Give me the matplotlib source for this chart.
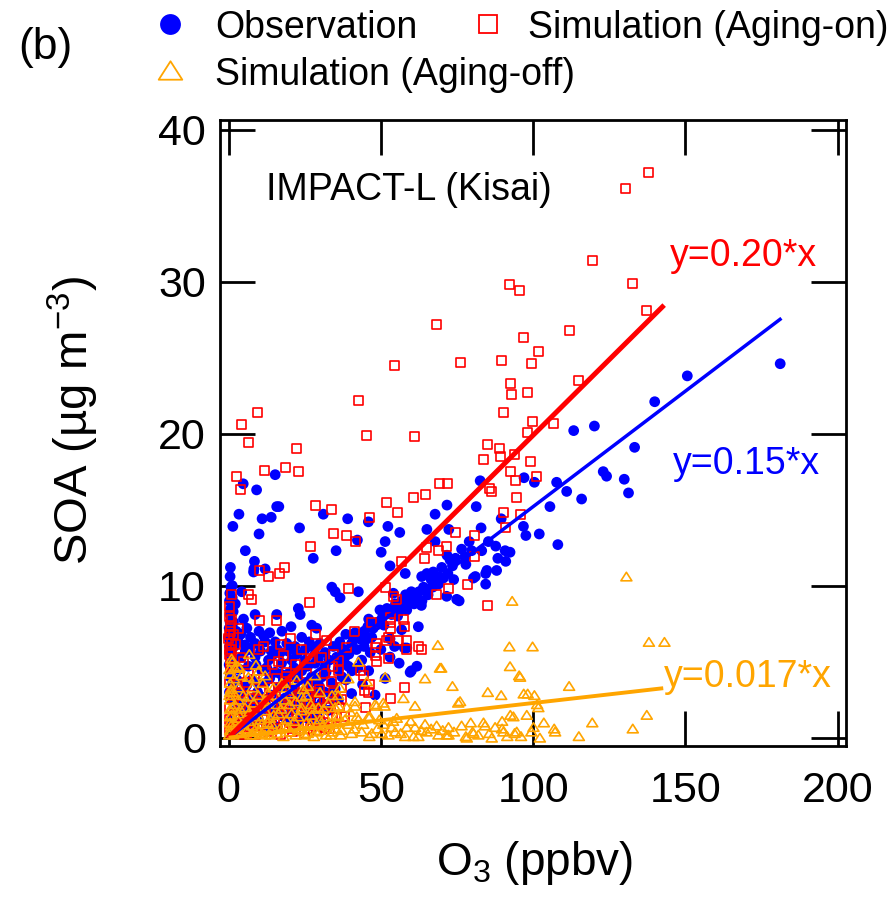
import matplotlib
matplotlib.use('Agg')
import matplotlib.pyplot as plt
from matplotlib.lines import Line2D
from matplotlib.path import Path
import numpy as np

plt.rcParams['font.family'] = ['Liberation Sans', 'DejaVu Sans']
plt.rcParams['mathtext.fontset'] = 'custom'
plt.rcParams['mathtext.rm'] = 'Liberation Sans'

# --- Observation (blue circles): O3 (ppbv), SOA (ug m-3)
obs_x = [15.8, 16.5, 14.0, 11.0, 3.4, 1.4, 10.0, 9.2, 4.8, 15.3, 5.5, 31.1, 23.3, 35.3, 27.8,
         8.5, 8.3, 12.0, 0.5, 8.2, 4.3, 1.0, 0.5, 0.5, 4.9, 8.7, 15.8, 22.9, 23.5, 27.3,
         28.9, 33.9, 35.0,
         0.0, 5.4, 8.7, 12.0, 15.3, 19.1, 21.8, 25.1, 28.4, 31.7, 34.4, 35.5, 28.4, 31.7,
         25.1, 20.7, 17.4, 13.1, 8.7, 4.3, 2.1, 6.5, 10.9, 15.3, 19.6, 24.0, 27.3, 30.6,
         33.9, 7.6, 12.0, 16.4, 20.7, 25.1, 28.4, 4.3, 7.6, 12.0, 16.4, 20.7, 25.1, 30.6,
         32.8, 2.1, 5.4, 9.8, 14.2,
         0.3, 0.5, 0.8, 0.3, 0.6, 1.2, 1.5, 3.0, 6.8, 10.5, 14.0, 17.0, 22.5, 26.5, 30.0,
         18.0, 22.5, 9.5, 14.0, 27.0, 23.0, 18.5, 11.0, 3.5, 6.5, 1.5, 1.0, 19.0, 23.5,
         29.0, 33.5, 36.0,
         53.0, 58.0, 63.4, 67.2, 70.0, 72.7, 64.0, 68.9, 74.9, 36.6, 42.6, 49.7, 54.1,
         58.5, 62.3, 56.8, 53.0, 47.0, 40.4, 37.2, 43.7, 53.0, 59.6, 61.8, 51.4, 48.1,
         39.3, 37.2, 40.4, 36.1,
         71.7, 67.8, 65.1, 72.3, 67.8, 71.7, 52.3, 56.2, 51.4, 50.1, 42.3, 45.9, 39.1,
         65.1, 58.1, 60.9, 63.3, 71.6, 54.8, 45.7, 58.5, 57.7, 73.9,
         38.5, 41.0, 44.5, 46.0, 48.5, 50.5, 52.0, 55.5, 57.0, 60.0, 61.5, 65.5, 66.5,
         70.5, 72.0, 38.0, 42.0, 44.5, 36.5,
         82.6, 97.0, 100.4, 107.7, 111.0, 115.9, 123.0, 124.1, 129.9, 131.3, 81.3, 105.5,
         89.5, 82.9, 96.8, 97.6, 102.0, 108.1, 85.3, 87.7, 90.8, 92.4, 79.8, 83.1, 77.6,
         77.9, 88.4, 91.0, 84.8, 84.4, 88.0, 81.0, 80.4, 84.4, 75.7,
         181.1, 150.6, 139.9, 113.3, 120.1, 133.3]
obs_y = [15.2, 15.2, 14.5, 14.4, 14.7, 13.9, 13.4, 16.3, 16.7, 17.3, 12.3, 14.7, 13.8, 12.3, 11.8,
         11.6, 11.1, 11.1, 10.6, 10.9, 9.6, 8.6, 8.1, 7.6, 7.8, 8.1, 8.1, 8.5, 8.1, 7.4,
         7.2, 9.9, 9.6,
         6.6, 6.1, 6.2, 6.3, 6.3, 6.2, 6.0, 5.8, 5.5, 5.6, 6.0, 5.3, 4.9, 4.7,
         5.1, 5.1, 4.9, 5.1, 5.3, 5.3, 5.1, 4.7, 4.4, 4.3, 4.2, 4.4, 4.0, 4.0,
         3.6, 3.8, 3.6, 3.3, 3.2, 3.1, 2.9, 3.0, 2.5, 2.3, 2.0, 1.8, 1.7, 2.3,
         1.8, 1.8, 1.4, 1.2, 1.0,
         9.0, 8.4, 7.0, 6.0, 5.5, 9.2, 8.3, 6.4, 5.8, 5.7, 5.7, 5.6, 5.5, 6.3, 6.2,
         3.8, 3.9, 3.0, 2.8, 2.5, 2.4, 2.6, 1.8, 2.4, 2.0, 3.5, 4.4, 1.2, 1.2,
         1.5, 2.9, 4.5,
         11.3, 10.8, 10.6, 10.9, 11.2, 11.7, 9.9, 10.1, 9.1, 9.2, 9.6, 8.4, 9.5,
         8.4, 7.3, 7.1, 6.5, 6.6, 6.2, 5.8, 5.1, 5.3, 4.3, 4.7, 3.9, 2.8,
         4.7, 4.0, 2.9, 2.5,
         15.3, 14.7, 13.7, 13.7, 12.9, 12.0, 13.9, 13.5, 12.9, 12.2, 13.0, 14.2, 14.4,
         10.8, 9.4, 8.8, 8.7, 9.3, 8.8, 7.3, 5.9, 5.9, 10.4,
         6.8, 6.5, 7.0, 7.8, 7.4, 7.9, 8.5, 8.0, 9.0, 9.6, 9.2, 9.4, 10.4,
         10.5, 10.8, 5.2, 5.8, 6.0, 6.3,
         16.9, 17.1, 16.8, 16.8, 16.2, 15.7, 17.5, 17.2, 17.0, 16.1, 15.2, 15.2,
         14.4, 13.8, 13.9, 13.3, 13.4, 12.7, 12.9, 12.6, 12.3, 12.2, 12.3, 12.3, 11.9,
         11.4, 11.8, 11.6, 11.0, 10.8, 11.0, 10.6, 10.5, 10.1, 9.0,
         24.6, 23.8, 22.1, 20.2, 20.5, 19.1]
# the crowded low-O3 part of the observations and the band along the fit
obs_crowd = [(2.5, 7.0), (6.0, 7.2), (10.0, 7.0), (13.5, 6.9), (17.5, 7.0), (20.5, 7.3),
             (1.8, 6.0), (4.0, 6.8), (7.2, 6.6), (11.5, 6.7), (16.0, 5.8), (19.5, 5.7),
             (24.0, 6.6), (27.5, 6.0), (33.0, 5.1), (3.5, 4.5), (5.5, 5.7), (9.0, 4.8),
             (12.5, 4.6), (14.8, 5.5), (17.0, 4.2), (21.5, 4.6), (26.0, 4.7), (29.5, 5.2),
             (32.0, 4.3), (36.5, 5.0), (38.0, 5.8), (2.8, 3.8), (5.8, 3.4), (9.5, 3.6),
             (13.5, 3.9), (18.5, 3.4), (22.5, 2.9), (26.5, 3.6), (29.5, 3.5), (31.5, 3.0),
             (35.0, 3.2), (4.5, 2.0), (8.5, 2.2), (10.5, 2.7), (15.0, 1.6), (17.5, 2.4),
             (21.0, 2.4), (24.0, 2.2), (28.5, 2.0), (34.5, 2.4), (0.8, 2.5), (1.2, 1.2),
             (3.0, 0.9), (6.0, 0.8), (8.0, 1.0), (12.5, 0.8), (16.0, 0.7), (18.0, 1.4),
             (22.0, 0.9), (26.5, 1.2), (30.5, 1.0), (0.4, 9.5), (0.8, 9.9), (0.2, 7.2),
             (0.6, 6.3), (0.2, 4.8), (0.5, 4.0), (0.3, 3.0), (0.9, 5.8), (1.6, 7.6),
             (2.2, 8.8), (1.2, 10.0), (0.6, 11.2),
             (39.5, 5.5), (41.5, 6.9), (43.0, 6.5), (45.5, 6.5), (47.5, 7.2), (49.0, 7.6),
             (51.0, 7.4), (53.5, 8.1), (55.0, 8.6), (56.5, 8.4), (59.0, 8.9), (60.5, 9.2),
             (62.5, 9.6), (63.5, 9.0), (67.0, 9.9), (69.0, 10.6), (73.5, 11.3), (74.5, 11.8),
             (76.5, 12.4), (79.0, 12.9), (40.5, 4.4), (42.5, 4.6), (46.5, 5.6), (50.0, 5.8),
             (54.5, 6.0), (38.5, 3.8), (44.0, 3.5), (46.0, 4.4), (56.0, 4.9), (60.0, 4.4)]

# --- Simulation, aging on (red squares)
on_x = [138.0, 130.4, 119.4, 132.7, 137.3, 92.1, 95.6, 68.4, 111.8, 96.8, 101.6, 54.4, 76.0,
        89.6, 99.6, 115.0, 92.5, 92.9, 98.2, 42.5, 90.2, 9.6, 4.1, 6.7, 22.2, 45.3, 60.9,
        99.8, 98.2, 106.7, 85.1, 89.1, 89.4, 83.7, 94.0, 99.0,
        2.6, 3.9, 11.8, 18.7, 22.9, 69.3, 71.9, 64.7, 60.7, 51.9, 28.6, 33.7, 55.4, 46.3,
        34.3, 38.8, 41.6, 27.0, 65.1, 68.8, 71.7, 64.3, 56.9,
        10.3, 13.1, 16.6, 18.5, 6.5, 7.4, 26.7, 10.3, 15.8, 28.4, 0.5, 3.2, 0.5, 0.0, 20.2,
        11.4, 9.8, 17.2, 23.8, 32.0, 1.0, 3.8, 18.0, 0.5, 14.4, 0.5, 19.1, 19.1, 15.8,
        34.2, 36.0, 6.5, 33.9, 24.2, 28.9, 30.0, 32.8, 28.4, 19.6, 15.3,
        0.3, 0.8, 0.3, 0.6, 0.4, 0.8, 1.5,
        5.0, 8.0, 10.0, 12.0, 14.0, 16.0, 18.0, 20.0, 22.0, 24.0, 26.0, 28.0, 30.0, 32.0,
        34.0, 3.0, 6.0, 9.0, 13.0, 17.0, 21.0, 25.0, 29.0, 33.0, 2.0, 4.0, 7.0, 11.0,
        13.5, 17.5, 21.5, 23.0, 26.0, 9.0, 1.0, 1.5, 2.5,
        39.3, 51.4, 54.1, 55.2, 68.3, 72.2, 46.8, 41.5, 53.0, 53.0, 53.0, 57.4, 57.7,
        52.5, 51.9, 55.7, 58.5, 48.6, 48.1, 48.1, 48.6, 52.5, 58.5, 62.3, 63.2, 38.8,
        36.1, 43.2, 44.3, 46.4, 44.6, 45.9, 57.7, 53.3, 44.8, 37.1, 37.2,
        92.7, 101.0, 94.1, 85.6, 86.4, 94.4, 90.2, 95.9, 90.8, 80.6, 74.4, 80.9, 78.4,
        85.0]
on_y = [37.2, 36.1, 31.4, 29.9, 28.1, 29.8, 29.4, 27.2, 26.8, 26.3, 25.4, 24.5, 24.7,
        24.8, 24.6, 23.5, 23.3, 22.6, 22.7, 22.2, 21.4, 21.4, 20.6, 19.4, 19.0, 19.9, 19.8,
        20.8, 20.1, 20.7, 19.3, 19.0, 18.5, 18.3, 18.6, 18.2,
        17.2, 16.3, 17.6, 17.8, 17.5, 16.7, 16.7, 16.0, 15.8, 15.5, 15.3, 15.0, 14.8, 14.5,
        13.4, 13.3, 12.9, 12.6, 12.5, 12.3, 12.6, 11.8, 11.6,
        11.0, 10.6, 10.8, 11.2, 9.4, 9.1, 8.9, 7.7, 7.7, 6.8, 7.3, 7.2, 7.0, 6.5, 6.5,
        6.0, 5.8, 6.1, 5.8, 6.4, 5.8, 5.3, 5.4, 5.1, 4.8, 4.7, 4.3, 4.0, 3.9,
        4.7, 4.4, 4.2, 3.7, 3.5, 3.0, 3.2, 2.7, 2.5, 2.5, 2.7,
        8.0, 6.2, 5.5, 4.2, 3.6, 3.0, 6.8,
        1.0, 1.6, 0.8, 2.0, 1.3, 0.6, 1.8, 1.0, 2.2, 1.4, 0.8, 1.9, 1.1, 2.0,
        1.4, 0.5, 0.3, 0.2, 0.4, 0.2, 0.4, 0.3, 0.5, 0.6, 1.5, 2.2, 2.8, 3.1,
        3.3, 3.0, 3.4, 2.8, 2.2, 2.0, 0.9, 2.5, 3.5,
        9.8, 9.9, 9.3, 9.1, 9.4, 9.8, 7.6, 7.0, 7.9, 7.6, 7.2, 7.8, 7.3,
        6.6, 6.4, 6.4, 6.4, 6.2, 5.9, 5.4, 5.0, 5.2, 5.8, 6.0, 5.8, 5.9,
        5.1, 4.4, 4.1, 3.5, 3.1, 3.0, 3.3, 2.6, 2.0, 2.5, 3.3,
        17.5, 17.2, 16.9, 16.4, 16.2, 15.8, 14.8, 14.7, 13.8, 13.3, 13.5, 11.9, 10.1,
        8.7]
on_crowd = [(1.0, 0.3), (2.0, 0.8), (3.5, 1.2), (4.5, 0.2), (5.5, 1.8), (6.5, 0.7), (7.5, 1.3),
            (8.5, 0.5), (9.5, 1.7), (10.5, 2.3), (11.5, 1.2), (12.5, 0.7), (13.0, 2.4),
            (14.5, 1.9), (15.0, 0.9), (16.5, 1.5), (17.5, 2.3), (18.5, 0.7), (19.5, 1.6),
            (20.5, 2.8), (21.0, 0.6), (22.5, 1.6), (23.5, 2.2), (24.5, 0.8), (25.5, 1.8),
            (26.5, 2.7), (27.0, 0.6), (28.5, 1.5), (29.5, 2.4), (31.0, 1.6), (31.5, 0.7),
            (33.0, 2.2), (34.5, 3.0), (35.5, 1.3), (36.5, 2.0), (38.0, 1.4), (0.2, 2.0),
            (0.3, 1.2), (0.6, 2.8), (0.2, 0.5), (1.2, 4.6), (0.2, 5.8), (0.4, 6.8),
            (0.8, 7.8), (0.3, 8.6), (1.0, 9.4), (2.2, 6.1), (4.8, 5.0), (6.0, 3.6),
            (8.5, 3.8), (12.0, 4.4), (16.5, 5.0), (22.0, 4.8), (25.5, 4.2), (27.0, 5.2),
            (30.5, 5.3), (34.5, 5.5), (8.0, 2.6), (3.5, 3.0), (26.0, 3.5), (31.5, 4.2)]

# --- Simulation, aging off (orange triangles)
off_x = [130.6, 93.1, 138.0, 143.1, 92.2, 99.8, 92.4, 95.4, 111.8, 85.1, 89.5, 96.9, 98.2,
         100.4, 101.3, 76.0, 137.3, 132.7, 119.4, 115.0, 106.9, 97.9, 92.5, 89.8, 83.7,
         80.1, 77.9, 85.6, 89.8, 93.9, 99.4, 78.2, 80.4, 84.2, 86.4, 90.2, 93.5, 94.6,
         100.1, 102.2, 107.2, 95.7, 101.7,
         68.7, 69.4, 69.8, 64.5, 73.5, 51.4, 42.6, 39.3, 45.4, 36.6, 41.5, 38.8, 36.1,
         48.1, 51.2, 57.4, 61.2, 75.4, 45.9, 39.3, 42.6, 58.5, 61.2, 64.5, 68.3, 72.2,
         54.7, 58.0, 62.3, 65.0, 68.9, 72.2, 37.1, 40.4, 43.7, 47.0, 50.3, 52.5, 36.1,
         42.1, 46.4, 55.2, 50.8, 48.6, 50.8, 41.5, 60.7, 71.6,
         6.8, 0.5, 4.3, 6.5, 9.8, 12.0, 28.4, 22.4, 14.7, 0.5, 0.5, 0.5, 0.5, 0.5, 0.5,
         0.5, 3.2, 3.2, 3.2, 6.5, 9.8, 18.5, 24.0, 24.0, 20.7, 16.4, 12.0, 8.7, 5.4, 4.3,
         7.6, 10.9, 14.2, 18.5, 22.9, 27.3, 31.7, 35.0, 32.8,
         1.5, 2.5, 4.0, 6.0, 8.0, 10.0, 12.0, 14.0, 16.0, 18.0, 20.0, 22.0, 24.0, 26.0,
         28.0, 30.0, 32.0, 34.0, 1.0, 2.0, 1.5, 2.0, 1.2, 3.6, 9.0, 17.5, 26.0, 25.5,
         30.0, 11.2, 7.8, 13.5, 16.0, 20.0, 22.0, 27.0, 29.5, 34.0, 10.5, 13.5, 6.5, 2.2,
         19.0, 25.5, 29.0, 33.0, 30.0, 34.4, 35.5]
off_y = [10.6, 9.0, 6.3, 6.3, 6.0, 6.0, 4.7, 4.1, 3.4, 3.0, 2.8, 2.9, 2.9,
         2.8, 2.2, 2.4, 1.5, 0.6, 1.0, 0.1, 0.6, 1.5, 1.5, 1.1, 1.0,
         0.4, 0.1, 0.3, 0.6, 0.3, 0.4, 0.0, 0.3, 0.8, 0.0, 0.4, 1.4, 0.4,
         0.7, 0.0, 0.4, 4.0, 2.0,
         6.1, 4.6, 4.6, 3.9, 3.4, 4.0, 5.0, 3.9, 3.7, 3.3, 2.4, 2.0, 2.1,
         2.2, 2.1, 2.6, 2.1, 2.3, 1.4, 0.9, 1.2, 0.7, 0.7, 0.9, 0.8, 0.7,
         0.4, 0.1, 0.1, 0.4, 0.2, 0.2, 0.5, 0.3, 0.4, 0.3, 0.3, 0.2, 1.4,
         1.4, 1.4, 1.3, 0.9, 2.1, 2.3, 2.1, 0.1, 0.2,
         5.5, 4.2, 4.1, 4.0, 4.4, 4.1, 4.1, 3.8, 3.3, 3.6, 3.0, 2.5, 1.9, 1.4, 1.0,
         0.5, 3.3, 2.5, 1.6, 2.7, 2.8, 2.5, 2.7, 2.0, 1.6, 1.6, 1.8, 1.4, 2.0, 0.9,
         0.8, 0.9, 0.9, 0.8, 1.4, 1.5, 1.4, 2.0, 2.3,
         0.2, 0.6, 0.3, 0.5, 0.2, 0.4, 0.2, 0.5, 0.3, 0.1, 0.4, 0.2, 0.6, 0.3,
         0.1, 0.5, 0.2, 0.4, 1.5, 2.2, 3.0, 4.6, 5.0, 4.6, 4.8, 3.6, 3.4, 2.8,
         3.0, 3.6, 3.3, 2.5, 2.2, 2.9, 2.4, 2.2, 2.0, 2.8, 1.2, 1.3, 1.1, 0.9,
         1.2, 1.0, 0.9, 1.0, 1.2, 0.9, 1.5]
off_crowd = [(0.2, 0.2), (0.8, 0.8), (1.2, 2.0), (0.3, 2.8), (0.8, 3.2), (1.8, 3.9), (0.3, 4.5),
             (1.0, 5.2), (2.7, 1.3), (3.8, 1.9), (4.8, 2.8), (5.5, 0.6), (6.8, 1.7),
             (7.2, 0.2), (8.2, 2.3), (9.2, 0.7), (9.6, 1.8), (11.0, 0.3), (11.8, 2.4),
             (12.8, 1.0), (13.6, 0.2), (14.8, 1.5), (15.5, 2.8), (16.8, 0.6), (17.2, 1.9),
             (19.5, 0.7), (20.0, 2.2), (21.5, 1.1), (23.2, 0.5), (23.8, 1.8), (25.0, 0.2),
             (26.8, 0.9), (27.5, 1.9), (28.7, 0.4), (30.8, 0.8), (31.2, 1.9), (33.5, 0.2),
             (35.2, 0.6), (36.8, 0.2), (38.2, 1.2), (40.0, 1.7), (41.2, 0.6), (44.2, 0.9),
             (46.2, 0.1), (48.8, 0.6), (49.5, 1.2), (53.5, 0.7), (54.0, 1.1), (56.5, 0.3),
             (59.8, 1.1), (63.2, 0.5), (66.5, 0.6), (70.3, 0.5), (74.0, 0.4), (76.5, 0.8),
             (79.5, 1.0), (82.0, 0.2), (87.5, 0.7), (91.5, 0.1), (96.0, 0.1), (103.5, 1.0),
             (24.5, 3.2), (19.0, 3.3), (8.5, 3.9), (3.0, 4.7), (13.0, 3.0), (36.0, 2.8)]

# --- regression lines as drawn: (end of O3 range, slope of drawn line, label)
fit_end = [181.5, 143.0, 142.7]
fit_slope = [0.152, 0.199, 0.0228]
fit_label = ['y=0.15*x', 'y=0.20*x', 'y=0.017*x']

blue = '#0000FF'
red = '#FF0000'
orange = '#FFA500'
tri = Path([(-1.0, -0.78), (1.0, -0.78), (0.0, 0.78), (-1.0, -0.78)], closed=True)

obs_all_x = obs_x + [p[0] for p in obs_crowd]
obs_all_y = obs_y + [p[1] for p in obs_crowd]
on_all_x = on_x + [p[0] for p in on_crowd]
on_all_y = on_y + [p[1] for p in on_crowd]
off_all_x = off_x + [p[0] for p in off_crowd]
off_all_y = off_y + [p[1] for p in off_crowd]

fig = plt.figure(figsize=(8.94, 9.01), dpi=100)
ax = fig.add_axes([0.2458, 0.1720, 0.7005, 0.6951])

ax.scatter(obs_all_x, obs_all_y, s=60, color=blue, edgecolors='none', zorder=2)
ax.scatter(on_all_x, on_all_y, s=42, marker='s', facecolors='none', edgecolors=red,
           linewidths=1.2, zorder=3)
ax.scatter(off_all_x, off_all_y, s=62, marker=tri, facecolors='none', edgecolors=orange,
           linewidths=1.2, zorder=4)

for xe, k, c, lw in zip(fit_end, fit_slope, [blue, red, orange], [2.5, 3.6, 2.8]):
    xs = np.array([0.0, xe])
    ax.plot(xs, k * xs, color=c, lw=lw, solid_capstyle='butt', zorder=5)

ax.text(12.4, 36.0, 'IMPACT-L (Kisai)', fontsize=27, ha='left', va='center')
ax.text(144.9, 31.7, fit_label[1], color=red, fontsize=27, ha='left', va='center')
ax.text(145.9, 18.0, fit_label[0], color=blue, fontsize=27, ha='left', va='center')
ax.text(142.8, 4.0, fit_label[2], color=orange, fontsize=27, ha='left', va='center')

ax.set_xlim(-2.9, 202.7)
ax.set_ylim(-0.55, 40.65)
ax.set_xticks([0, 50, 100, 150, 200])
ax.set_yticks([0, 10, 20, 30, 40])
ax.tick_params(direction='in', length=25, width=2.0, top=True, right=True,
               labelsize=31)
ax.tick_params(axis='x', pad=18)
ax.tick_params(axis='y', pad=10)
for sp in ax.spines.values():
    sp.set_linewidth(2.0)

ax.set_xlabel('O$_3$ (ppbv)', fontsize=33)
ax.set_ylabel('SOA (µg m$^{-3}$)', fontsize=34)
ax.xaxis.set_label_coords(0.503, -0.148)
ax.yaxis.set_label_coords(-0.19, 0.52)

# legend drawn in figure coordinates
fig.text(0.02, 0.935, '(b)', fontsize=32, ha='left', va='baseline')
fig.add_artist(Line2D([0.190], [0.973], marker='o', markersize=15, color=blue,
                      markeredgecolor='none', transform=fig.transFigure))
fig.text(0.2405, 0.958, 'Observation', fontsize=27, ha='left', va='baseline')
fig.add_artist(Line2D([0.546], [0.973], marker='s', markersize=13, markerfacecolor='none',
                      markeredgecolor=red, markeredgewidth=1.3, transform=fig.transFigure))
fig.text(0.5906, 0.958, 'Simulation (Aging-on)', fontsize=27, ha='left', va='baseline')
fig.add_artist(Line2D([0.190], [0.922], marker=tri, markersize=17, markerfacecolor='none',
                      markeredgecolor=orange, markeredgewidth=1.3, transform=fig.transFigure))
fig.text(0.2405, 0.906, 'Simulation (Aging-off)', fontsize=27, ha='left', va='baseline')

fig.savefig('out.png', dpi=100)
